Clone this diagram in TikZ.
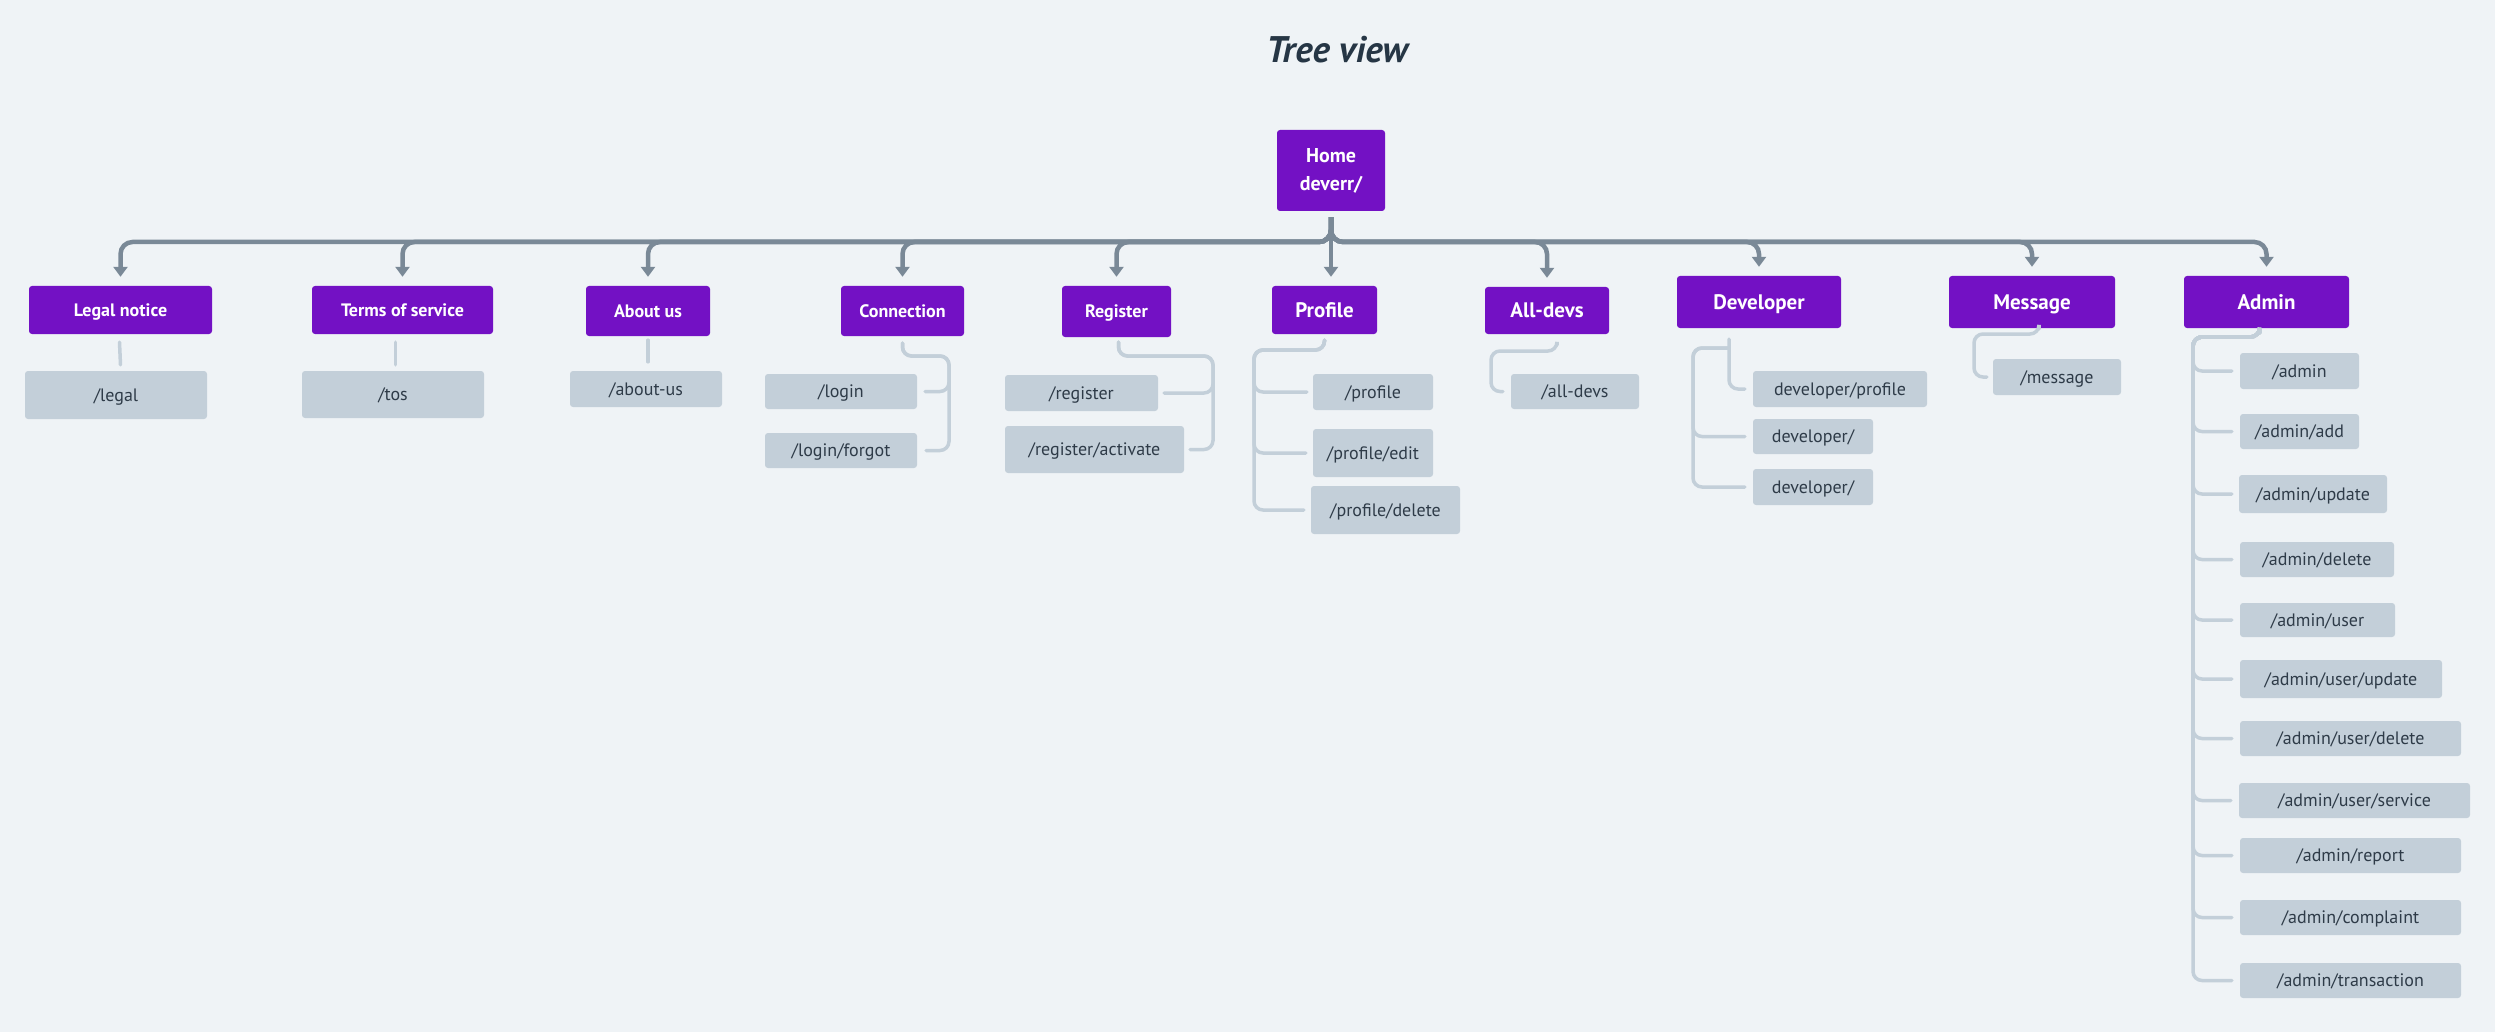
\documentclass[tikz,border=0pt]{standalone}
\usepackage{fontspec}
\setmainfont{PT Sans}
\usepackage{xcolor}
\usetikzlibrary{
    arrows.meta,
    positioning
}

\definecolor{bgcol}{HTML}{EFF3F6}
\definecolor{pagepurple}{HTML}{7311C4}
\definecolor{trunkgray}{HTML}{7A8997}
\definecolor{leafgray}{HTML}{C3CFD9}
\definecolor{leaftext}{HTML}{2E3B48}
\definecolor{titlecol}{HTML}{263645}

\begin{document}
\begin{tikzpicture}[x=1pt, y=-1pt,
    wh/.style 2 args={minimum width=#1, minimum height=#2},
    section/.style={fill=pagepurple, text=white, rounded corners=3pt, inner sep=0pt,
        text height=12.6pt, text depth=0pt, font=\bfseries\fontsize{18}{22}\selectfont},
    bigsection/.style={section, text height=14.7pt, text depth=0pt, font=\bfseries\fontsize{21}{25}\selectfont},
    route/.style={fill=leafgray, text=leaftext, rounded corners=3pt, inner sep=0pt,
        text height=12.6pt, text depth=0pt, font=\fontsize{18}{22}\selectfont},
    trunk/.style={draw=trunkgray, line width=4.5pt, rounded corners=12pt,
        -{Triangle[width=14pt,length=10pt]}, shorten >=9pt},
    twig/.style={draw=leafgray, line width=3.5pt, rounded corners=9pt, line cap=round}]

    \fill[bgcol] (0, 0) rectangle (2495, 1032);
    \useasboundingbox (0, 0) rectangle (2495, 1032);

    \node[text=titlecol, font=\bfseries\itshape\fontsize{37}{42}\selectfont] (title) at (1337, 50) {Tree view};

    % root
    \node[fill=pagepurple, text=white, rounded corners=3pt, align=center, wh={108}{81},
        font=\bfseries\fontsize{20}{28}\selectfont] (home) at (1331, 170.5) {Home\\deverr/};
    \coordinate (hub) at (1331, 242);

    % pages
    \node[section, wh={183}{48}] (legal) at (120.5, 310) {Legal notice};
    \node[section, wh={181}{48}] (tos) at (402.5, 310) {Terms of service};
    \node[section, wh={124}{50}] (about) at (648, 311) {About us};
    \node[section, wh={123}{50}] (connection) at (902.5, 311) {Connection};
    \node[section, wh={109}{51}] (register) at (1116.5, 311.5) {Register};
    \node[bigsection, wh={105}{48}] (profile) at (1324.5, 310) {Profile};
    \node[bigsection, wh={124}{47}] (alldevs) at (1547, 310.5) {All-devs};
    \node[bigsection, wh={164}{52}] (developer) at (1759, 302) {Developer};
    \node[bigsection, wh={166}{52}] (message) at (2032, 302) {Message};
    \node[bigsection, wh={165}{52}] (admin) at (2266.5, 302) {Admin};

    % routes
    \node[route, wh={182}{48}] (legalroute) at (116, 395) {/legal};
    \node[route, wh={182}{47}] (tosroute) at (393, 394.5) {/tos};
    \node[route, wh={152}{36}] (aboutroute) at (646, 389) {/about-us};
    \node[route, wh={152}{35}] (login) at (841, 391.5) {/login};
    \node[route, wh={152}{35}] (forgot) at (841, 450.5) {/login/forgot};
    \node[route, wh={153}{36}] (signup) at (1081.5, 393) {/register};
    \node[route, wh={179}{47}] (activate) at (1094.5, 449.5) {/register/activate};
    \node[route, wh={120}{36}] (profview) at (1373, 392) {/profile};
    \node[route, wh={120}{48}] (profedit) at (1373, 453) {/profile/edit};
    \node[route, wh={149}{48}] (profdelete) at (1385.5, 510) {/profile/delete};
    \node[route, wh={128}{35}] (devslist) at (1575, 391.5) {/all-devs};
    \node[route, wh={174}{36}] (devprofile) at (1840, 389) {developer/profile};
    \node[route, wh={120}{35}] (devpagea) at (1813, 436.5) {developer/};
    \node[route, wh={120}{36}] (devpageb) at (1813, 487) {developer/};
    \node[route, wh={128}{36}] (msgroute) at (2057, 377) {/message};
    \node[route, wh={119}{36}] (adm) at (2299.5, 371) {/admin};
    \node[route, wh={119}{35}] (admadd) at (2299.5, 431.5) {/admin/add};
    \node[route, wh={148}{38}] (admupdate) at (2313, 494) {/admin/update};
    \node[route, wh={154}{35}] (admdelete) at (2317, 559.5) {/admin/delete};
    \node[route, wh={155}{34}] (admuser) at (2317.5, 620) {/admin/user};
    \node[route, wh={202}{38}] (admuserupdate) at (2341, 679) {/admin/user/update};
    \node[route, wh={221}{35}] (admuserdelete) at (2350.5, 738.5) {/admin/user/delete};
    \node[route, wh={231}{35}] (admuserservice) at (2354.5, 800.5) {/admin/user/service};
    \node[route, wh={221}{35}] (admreport) at (2350.5, 855.5) {/admin/report};
    \node[route, wh={221}{35}] (admcomplaint) at (2350.5, 917.5) {/admin/complaint};
    \node[route, wh={221}{35}] (admtransaction) at (2350.5, 980.5) {/admin/transaction};

    % root to pages
    \draw[trunk] ([yshift=-6pt]home.south) -- (hub) -| (legal.north);
    \draw[trunk] ([yshift=-6pt]home.south) -- (hub) -| (tos.north);
    \draw[trunk] ([yshift=-6pt]home.south) -- (hub) -| (about.north);
    \draw[trunk] ([yshift=-6pt]home.south) -- (hub) -| (connection.north);
    \draw[trunk] ([yshift=-6pt]home.south) -- (hub) -| (register.north);
    \draw[trunk] ([yshift=-6pt]home.south) -- (hub |- profile.north);
    \draw[trunk] ([yshift=-6pt]home.south) -- (hub) -| (alldevs.north);
    \draw[trunk] ([yshift=-6pt]home.south) -- (hub) -| (developer.north);
    \draw[trunk] ([yshift=-6pt]home.south) -- (hub) -| (message.north);
    \draw[trunk] ([yshift=-6pt]home.south) -- (hub) -| (admin.north);

    % pages to routes
    \coordinate (connrail) at (949, 356);
    \coordinate (regrail) at (1213, 356);
    \coordinate (profrail) at (1254, 350);
    \coordinate (devsrail) at (1491, 351);
    \coordinate (devfork) at (1729, 348);
    \coordinate (devrail) at (1693, 348);
    \coordinate (msgrail) at (1974, 334);
    \coordinate (adminrail) at (2193, 337);

    \draw[twig] ([xshift=-1pt, yshift=-8pt]legal.south) -- ([yshift=6pt]legalroute.north -| legal.south);
    \draw[twig] ([xshift=-7pt, yshift=-8pt]tos.south) -- ([xshift=-7pt, yshift=6pt]tosroute.north -| tos.south);
    \draw[twig] ([yshift=-4pt]about.south) -- ([yshift=9pt]aboutroute.north -| about.south);

    \draw[twig] ([yshift=-7pt]connection.south) |- (connrail) |- ([xshift=8pt]login.east);
    \draw[twig] ([yshift=-7pt]connection.south) |- (connrail) |- ([xshift=9pt]forgot.east);

    \draw[twig] ([xshift=2pt, yshift=-5pt]register.south) |- (regrail) |- ([xshift=6pt]signup.east);
    \draw[twig] ([xshift=2pt, yshift=-5pt]register.south) |- (regrail) |- ([xshift=6pt]activate.east);

    \draw[twig] ([yshift=-6pt]profile.south) |- (profrail) |- ([xshift=-6pt]profview.west);
    \draw[twig] ([yshift=-6pt]profile.south) |- (profrail) |- ([xshift=-7pt]profedit.west);
    \draw[twig] ([yshift=-6pt]profile.south) |- (profrail) |- ([xshift=-7pt]profdelete.west);

    \draw[twig] ([xshift=10pt, yshift=-11pt]alldevs.south) |- (devsrail) |- ([xshift=-8pt]devslist.west);

    \draw[twig] ([xshift=-30pt, yshift=-11pt]developer.south) |- ([xshift=-8pt]devprofile.west);
    \draw[twig] (devfork) -- (devrail) |- ([xshift=-8pt]devpagea.west);
    \draw[twig] (devfork) -- (devrail) |- ([xshift=-8pt]devpageb.west);

    \draw[twig] ([xshift=7pt, yshift=-1pt]message.south) |- (msgrail) |- ([xshift=-6pt]msgroute.west);

    \draw[twig] ([xshift=-7pt, yshift=-5pt]admin.south) |- (adminrail) |- ([xshift=-8pt]adm.west);
    \draw[twig] ([xshift=-7pt, yshift=-5pt]admin.south) |- (adminrail) |- ([xshift=-8pt]admadd.west);
    \draw[twig] ([xshift=-7pt, yshift=-5pt]admin.south) |- (adminrail) |- ([xshift=-7pt]admupdate.west);
    \draw[twig] ([xshift=-7pt, yshift=-5pt]admin.south) |- (adminrail) |- ([xshift=-8pt]admdelete.west);
    \draw[twig] ([xshift=-7pt, yshift=-5pt]admin.south) |- (adminrail) |- ([xshift=-8pt]admuser.west);
    \draw[twig] ([xshift=-7pt, yshift=-5pt]admin.south) |- (adminrail) |- ([xshift=-8pt]admuserupdate.west);
    \draw[twig] ([xshift=-7pt, yshift=-5pt]admin.south) |- (adminrail) |- ([xshift=-8pt]admuserdelete.west);
    \draw[twig] ([xshift=-7pt, yshift=-5pt]admin.south) |- (adminrail) |- ([xshift=-8pt]admuserservice.west);
    \draw[twig] ([xshift=-7pt, yshift=-5pt]admin.south) |- (adminrail) |- ([xshift=-8pt]admreport.west);
    \draw[twig] ([xshift=-7pt, yshift=-5pt]admin.south) |- (adminrail) |- ([xshift=-8pt]admcomplaint.west);
    \draw[twig] ([xshift=-7pt, yshift=-5pt]admin.south) |- (adminrail) |- ([xshift=-8pt]admtransaction.west);
\end{tikzpicture}
\end{document}
